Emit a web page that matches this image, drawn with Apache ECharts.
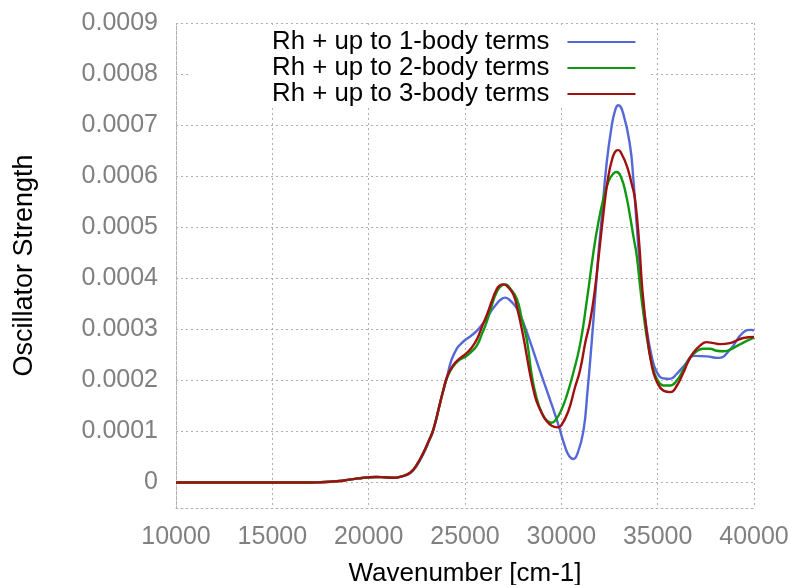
<!DOCTYPE html>
<html>
<head>
<meta charset="utf-8">
<script src="https://cdn.jsdelivr.net/npm/echarts@6/dist/echarts.min.js"></script>
<style>html,body{margin:0;padding:0;background:#fff}#c{width:794px;height:585px}</style>
</head>
<body>
<div id="c"></div>
<script>
var xTicks = [10000, 15000, 20000, 25000, 30000, 35000, 40000];
var yTicks = [0, 0.0001, 0.0002, 0.0003, 0.0004, 0.0005, 0.0006, 0.0007, 0.0008, 0.0009];
var seriesNames = ['Rh + up to 1-body terms', 'Rh + up to 2-body terms', 'Rh + up to 3-body terms'];

var blueX = [10000,12000,14000,16000,17000,17500,18000,18500,19000,19500,20000,20400,20800,21300,21700,22150,22500,22850,23100,23360,23700,24057,24300,24575,24800,25007,25300,25613,25900,26132,26400,26650,26850,27081,27300,27600,27800,28030,28450,28896,29414,29700,29933,30150,30400,30625,30850,31143,31350,31576,31750,31920,32100,32350,32600,32800,32958,33217,33565,33736,33900,34050,34171,34431,34690,34950,35292,35640,36000,36330,36936,37543,38145,38752,39444,39877,40000];
var blueY = [0,0,0,0,0,0.005e-4,0.015e-4,0.03e-4,0.055e-4,0.08e-4,0.1e-4,0.107e-4,0.102e-4,0.092e-4,0.115e-4,0.18e-4,0.33e-4,0.57e-4,0.78e-4,1.03e-4,1.55e-4,2.05e-4,2.4e-4,2.62e-4,2.72e-4,2.79e-4,2.87e-4,2.97e-4,3.1e-4,3.22e-4,3.38e-4,3.5e-4,3.58e-4,3.62e-4,3.58e-4,3.46e-4,3.33e-4,3.13e-4,2.68e-4,2.18e-4,1.62e-4,1.3e-4,1.02e-4,0.75e-4,0.52e-4,0.46e-4,0.58e-4,1.0e-4,1.75e-4,2.75e-4,3.6e-4,4.45e-4,5.2e-4,6.25e-4,6.95e-4,7.3e-4,7.39e-4,7.22e-4,6.6e-4,5.95e-4,5.1e-4,4.35e-4,3.75e-4,3.0e-4,2.47e-4,2.17e-4,2.04e-4,2.03e-4,2.13e-4,2.27e-4,2.48e-4,2.47e-4,2.44e-4,2.6e-4,2.94e-4,2.99e-4,2.97e-4];

var greenX = [10000,12000,14000,16000,17000,17500,18000,18500,19000,19500,20000,20400,20800,21300,21700,22150,22500,22850,23100,23360,23881,24100,24400,24700,25007,25300,25613,25900,26132,26400,26650,26900,27100,27300,27687,27950,28206,28465,28700,29000,29250,29503,29750,30000,30281,30600,30971,31300,31662,31900,32180,32450,32700,32873,33100,33350,33565,33750,33911,34100,34300,34500,34750,35000,35300,35640,36000,36330,36700,37024,37350,37714,38050,38404,38750,39099,39500,39960,40000];
var greenY = [0,0,0,0,0,0.005e-4,0.015e-4,0.03e-4,0.055e-4,0.08e-4,0.1e-4,0.107e-4,0.102e-4,0.092e-4,0.12e-4,0.19e-4,0.35e-4,0.59e-4,0.8e-4,1.04e-4,1.82e-4,2.08e-4,2.28e-4,2.4e-4,2.46e-4,2.55e-4,2.68e-4,2.93e-4,3.15e-4,3.48e-4,3.73e-4,3.86e-4,3.88e-4,3.82e-4,3.6e-4,3.2e-4,2.8e-4,2.1e-4,1.68e-4,1.35e-4,1.21e-4,1.17e-4,1.25e-4,1.42e-4,1.7e-4,2.12e-4,2.7e-4,3.5e-4,4.5e-4,5.05e-4,5.55e-4,5.9e-4,6.05e-4,6.08e-4,5.98e-4,5.65e-4,5.22e-4,4.8e-4,4.45e-4,3.8e-4,3.2e-4,2.7e-4,2.25e-4,2.0e-4,1.9e-4,1.9e-4,2.0e-4,2.21e-4,2.45e-4,2.57e-4,2.62e-4,2.62e-4,2.58e-4,2.57e-4,2.6e-4,2.67e-4,2.75e-4,2.83e-4,2.84e-4];

var redX = [10000,12000,14000,16000,17000,17500,18000,18500,19000,19500,20000,20400,20800,21300,21700,22150,22500,22850,23100,23360,23881,24100,24400,24700,25007,25300,25613,25900,26132,26400,26600,26800,27000,27200,27512,27750,28030,28206,28379,28549,28725,29068,29244,29500,29794,30000,30365,30700,30971,31250,31490,31750,31960,32180,32400,32650,32850,32958,33150,33400,33650,33824,34048,34200,34431,34690,34950,35300,35676,36000,36330,36600,36849,37200,37543,37900,38234,38752,39444,40000];
var redY = [0,0,0,0,0,0.005e-4,0.015e-4,0.03e-4,0.055e-4,0.08e-4,0.1e-4,0.107e-4,0.102e-4,0.092e-4,0.12e-4,0.19e-4,0.35e-4,0.59e-4,0.8e-4,1.04e-4,1.82e-4,2.1e-4,2.3e-4,2.42e-4,2.51e-4,2.62e-4,2.8e-4,3.07e-4,3.28e-4,3.56e-4,3.75e-4,3.86e-4,3.88e-4,3.84e-4,3.68e-4,3.35e-4,2.85e-4,2.48e-4,2.12e-4,1.82e-4,1.58e-4,1.3e-4,1.2e-4,1.11e-4,1.08e-4,1.12e-4,1.4e-4,1.85e-4,2.2e-4,2.75e-4,3.15e-4,3.8e-4,4.5e-4,5.25e-4,5.9e-4,6.35e-4,6.5e-4,6.51e-4,6.42e-4,6.2e-4,5.85e-4,5.55e-4,4.65e-4,3.8e-4,2.95e-4,2.3e-4,1.98e-4,1.8e-4,1.77e-4,1.9e-4,2.15e-4,2.38e-4,2.54e-4,2.68e-4,2.75e-4,2.73e-4,2.71e-4,2.73e-4,2.83e-4,2.85e-4];

function pairs(xs, ys) { return xs.map(function (x, i) { return [x, ys[i]]; }); }

var FONT = 'Liberation Sans';
var dotted = { color: '#b0b0b0', type: [2, 3], width: 1 };

var chart = echarts.init(document.getElementById('c'), null, { renderer: 'canvas' });
chart.setOption({
  animation: false,
  backgroundColor: '#ffffff',
  grid: { left: 176, right: 40, top: 23, bottom: 77, containLabel: false, outerBoundsMode: 'none' },
  xAxis: {
    type: 'value', min: 10000, max: 40000, interval: 5000,
    name: 'Wavenumber [cm-1]', nameLocation: 'middle', nameGap: 53,
    nameTextStyle: { color: '#000', fontFamily: FONT, fontSize: 26 },
    axisLine: { show: true, onZero: false, lineStyle: dotted },
    axisTick: { show: false },
    axisLabel: { color: '#808080', fontFamily: FONT, fontSize: 25, margin: 17,
      formatter: function (v) { return String(v); } },
    splitLine: { show: true, lineStyle: dotted }
  },
  yAxis: {
    type: 'value', min: -0.00005, max: 0.0009,
    name: 'Oscillator Strength', nameLocation: 'middle', nameGap: 138,
    nameTextStyle: { color: '#000', fontFamily: FONT, fontSize: 27 },
    axisLine: { show: true, onZero: false, lineStyle: dotted },
    axisTick: { show: false, customValues: yTicks },
    axisLabel: { color: '#808080', fontFamily: FONT, fontSize: 25, margin: 18,
      customValues: yTicks,
      formatter: function (v) {
        if (Math.abs(v) < 1e-9) return '0';
        return v.toFixed(4);
      } },
    splitLine: { show: true, lineStyle: dotted }
  },
  legend: {
    orient: 'vertical', left: 190, top: 25, z: 5,
    align: 'right',
    backgroundColor: '#ffffff',
    padding: [4, 14, 0, 82],
    itemGap: 0,
    itemWidth: 68, itemHeight: 2,
    icon: 'rect',
    textStyle: { color: '#000', fontFamily: FONT, fontSize: 25.8, lineHeight: 26, padding: [0, 13, 0, 0] },
    data: seriesNames
  },
  series: [
    { name: seriesNames[0], type: 'line', data: pairs(blueX, blueY), smooth: 0.5, showSymbol: false,
      lineStyle: { color: '#5468d8', width: 2.4 }, itemStyle: { color: '#5468d8' }, z: 10 },
    { name: seriesNames[1], type: 'line', data: pairs(greenX, greenY), smooth: 0.5, showSymbol: false,
      lineStyle: { color: '#109910', width: 2.4 }, itemStyle: { color: '#109910' }, z: 11 },
    { name: seriesNames[2], type: 'line', data: pairs(redX, redY), smooth: 0.5, showSymbol: false,
      lineStyle: { color: '#a01010', width: 2.4 }, itemStyle: { color: '#a01010' }, z: 12 }
  ]
});
</script>
</body>
</html>
